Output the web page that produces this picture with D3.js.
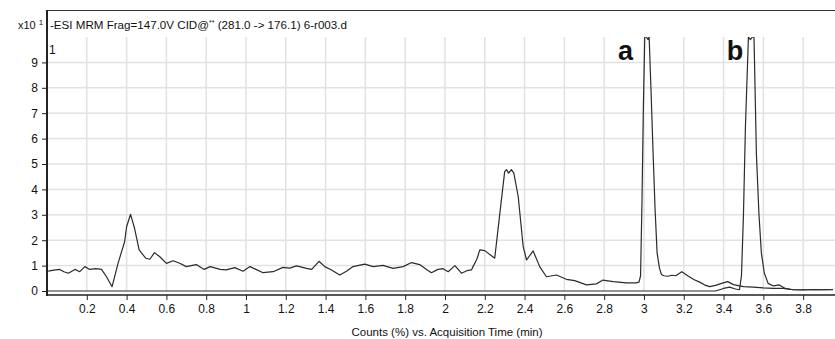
<!DOCTYPE html>
<html lang="en">
<head>
<meta charset="UTF-8">
<title>MRM chromatogram</title>
<style>
  body { margin: 0; background: #fff; }
  svg text { font-family: "Liberation Sans", Arial, sans-serif; fill: #111; }
  .grid line { stroke: #e2e2e2; stroke-width: 1.5; }
  .trace { fill: none; stroke: #2b2b2b; stroke-width: 1.2; stroke-linejoin: round; }
</style>
</head>
<body>
<svg width="835" height="339"></svg>
<script src="https://d3js.org/d3.v7.min.js"></script>
<script>
// trace 1 (peak a and the noisy baseline)
var timeA = [0.006, 0.035, 0.064, 0.085, 0.107, 0.125, 0.14, 0.165, 0.19, 0.215, 0.245, 0.274, 0.299, 0.327,
  0.357, 0.39, 0.40, 0.42, 0.44, 0.463, 0.496, 0.517, 0.54, 0.567, 0.60, 0.634, 0.667, 0.70, 0.75, 0.79,
  0.82, 0.87, 0.90, 0.944, 0.985, 1.02, 1.05, 1.086, 1.136, 1.186, 1.22, 1.254, 1.304, 1.33, 1.367, 1.396,
  1.43, 1.471, 1.505, 1.538, 1.597, 1.639, 1.689, 1.739, 1.79, 1.832, 1.873, 1.907, 1.932, 1.965, 1.99,
  2.016, 2.05, 2.083, 2.11, 2.133, 2.141, 2.16, 2.175, 2.20, 2.25, 2.272, 2.30, 2.309, 2.32, 2.334, 2.346,
  2.368, 2.393, 2.41, 2.443, 2.476, 2.51, 2.56, 2.61, 2.652, 2.711, 2.761, 2.794, 2.845, 2.912, 2.96,
  2.975, 2.983, 2.99, 2.997, 3.004, 3.012, 3.02, 3.026, 3.035, 3.046, 3.056, 3.066, 3.078, 3.088, 3.10,
  3.12, 3.14, 3.16, 3.19, 3.22, 3.25, 3.28, 3.31, 3.33, 3.36, 3.39, 3.42, 3.45, 3.50, 3.55, 3.60, 3.65,
  3.70, 3.75, 3.80, 3.85, 3.90, 3.95];
var countA = [0.78, 0.82, 0.85, 0.76, 0.70, 0.78, 0.85, 0.76, 0.96, 0.85, 0.88, 0.85, 0.56, 0.17,
  1.09, 1.94, 2.53, 3.02, 2.47, 1.62, 1.29, 1.25, 1.51, 1.35, 1.09, 1.19, 1.09, 0.96, 1.04, 0.85,
  0.96, 0.85, 0.83, 0.92, 0.78, 0.96, 0.85, 0.72, 0.76, 0.93, 0.90, 0.99, 0.89, 0.85, 1.17, 0.96,
  0.83, 0.63, 0.78, 0.96, 1.06, 0.96, 1.01, 0.89, 0.96, 1.12, 1.04, 0.85, 0.72, 0.85, 0.88,
  0.76, 1.0, 0.70, 0.80, 0.83, 0.96, 1.25, 1.62, 1.59, 1.29, 2.8, 4.70, 4.78, 4.64, 4.78, 4.64,
  3.72, 1.75, 1.22, 1.58, 0.96, 0.56, 0.63, 0.46, 0.41, 0.24, 0.28, 0.43, 0.37, 0.32, 0.32,
  0.35, 0.6, 3.5, 7.2, 10, 10, 9.9, 10, 8.0, 5.4, 3.2, 1.5, 0.9, 0.65, 0.6,
  0.58, 0.62, 0.6, 0.76, 0.6, 0.45, 0.35, 0.22, 0.17, 0.22, 0.3, 0.37, 0.25, 0.17, 0.15, 0.12, 0.1,
  0.1, 0.05, 0.04, 0.06, 0.05, 0.06];

// trace 2 (peak b)
var timeB = [0.0, 3.36, 3.40, 3.43, 3.46, 3.48, 3.49, 3.50, 3.51, 3.525, 3.535, 3.545, 3.553, 3.565,
  3.578, 3.59, 3.605, 3.624, 3.65, 3.68, 3.71, 3.75, 3.95];
var countB = [0.0, 0.0, 0.1, 0.15, 0.08, 0.05, 0.6, 3.0, 6.5, 10, 9.9, 10, 10, 5.4,
  3.0, 1.5, 0.7, 0.3, 0.2, 0.24, 0.1, 0.05, 0.05];

var xTicks = [0.2, 0.4, 0.6, 0.8, 1, 1.2, 1.4, 1.6, 1.8, 2, 2.2, 2.4, 2.6, 2.8, 3, 3.2, 3.4, 3.6, 3.8];
var yTicks = [0, 1, 2, 3, 4, 5, 6, 7, 8, 9];
var peakLabels = [{ name: "a", t: 2.907 }, { name: "b", t: 3.457 }];

var svg = d3.select("svg");
var plotLeft = 47, plotRight = 833, plotTop = 37, plotBottom = 291, axisY = 295;

var x = d3.scaleLinear().domain([0, 3.95]).range([plotLeft, plotRight]);
var y = d3.scaleLinear().domain([0, 10]).range([plotBottom, plotTop]);

// gridlines
var grid = svg.append("g").attr("class", "grid");
grid.selectAll(".v").data(xTicks).enter().append("line")
  .attr("x1", d => x(d)).attr("x2", d => x(d))
  .attr("y1", plotTop).attr("y2", plotBottom);
grid.selectAll(".h").data(yTicks.slice(1)).enter().append("line")
  .attr("x1", plotLeft).attr("x2", plotRight + 2)
  .attr("y1", d => y(d)).attr("y2", d => y(d));

// frame
svg.append("line").attr("x1", plotLeft).attr("x2", 835).attr("y1", 10.5).attr("y2", 10.5)
  .style("stroke", "#333").style("stroke-width", 1);

svg.append("defs").append("clipPath").attr("id", "plot")
  .append("rect").attr("x", plotLeft).attr("y", plotTop)
  .attr("width", plotRight - plotLeft + 2).attr("height", plotBottom - plotTop + 2);

var line = d3.line().x(d => x(d[0])).y(d => y(d[1]));
svg.append("path").attr("class", "trace").attr("clip-path", "url(#plot)")
  .attr("d", line(d3.zip(timeA, countA)));
svg.append("path").attr("class", "trace").attr("clip-path", "url(#plot)")
  .attr("d", line(d3.zip(timeB, countB)));

// axes
var xAxis = svg.append("g").attr("transform", "translate(0," + axisY + ")")
  .call(d3.axisBottom(x).tickValues(xTicks).tickSize(5).tickPadding(4).tickFormat(d => +d.toFixed(1)));
xAxis.select(".domain").attr("d", "M" + plotLeft + ",0H835").style("stroke", "#222").style("stroke-width", 1.6);
xAxis.selectAll(".tick line").style("stroke", "#222");
xAxis.selectAll("text").style("font-size", "12px").attr("fill", "#111");

var yAxis = svg.append("g").attr("transform", "translate(" + plotLeft + ",0)")
  .call(d3.axisLeft(y).tickValues(yTicks).tickSize(5).tickPadding(4).tickFormat(d3.format("d")));
yAxis.select(".domain").attr("d", "M0,10V" + (axisY + 1)).style("stroke", "#222").style("stroke-width", 2);
yAxis.selectAll(".tick line").style("stroke", "#222");
yAxis.selectAll("text").style("font-size", "12px").attr("fill", "#111");

// header texts
var scale = svg.append("text").attr("x", 18).attr("y", 29).style("font-size", "11px");
scale.append("tspan").text("x10");
scale.append("tspan").attr("dx", 3).attr("dy", -4).style("font-size", "8px").text("1");

var title = svg.append("text").attr("x", 50).attr("y", 29).style("font-size", "11.6px");
title.append("tspan").text("-ESI MRM  Frag=147.0V CID@");
title.append("tspan").attr("dy", -4).style("font-size", "7px").text("**");
title.append("tspan").attr("dy", 4).text(" (281.0 -> 176.1) 6-r003.d");

svg.append("text").attr("x", 49).attr("y", 54).style("font-size", "12px").text("1");

svg.selectAll(".peak").data(peakLabels).enter().append("text")
  .attr("x", d => x(d.t)).attr("y", 60)
  .style("font-size", "27px").style("font-weight", "bold").style("text-anchor", "middle")
  .text(d => d.name);

svg.append("text").attr("x", 447).attr("y", 336).style("font-size", "11.5px")
  .style("text-anchor", "middle").text("Counts (%) vs. Acquisition Time (min)");
</script>
</body>
</html>
